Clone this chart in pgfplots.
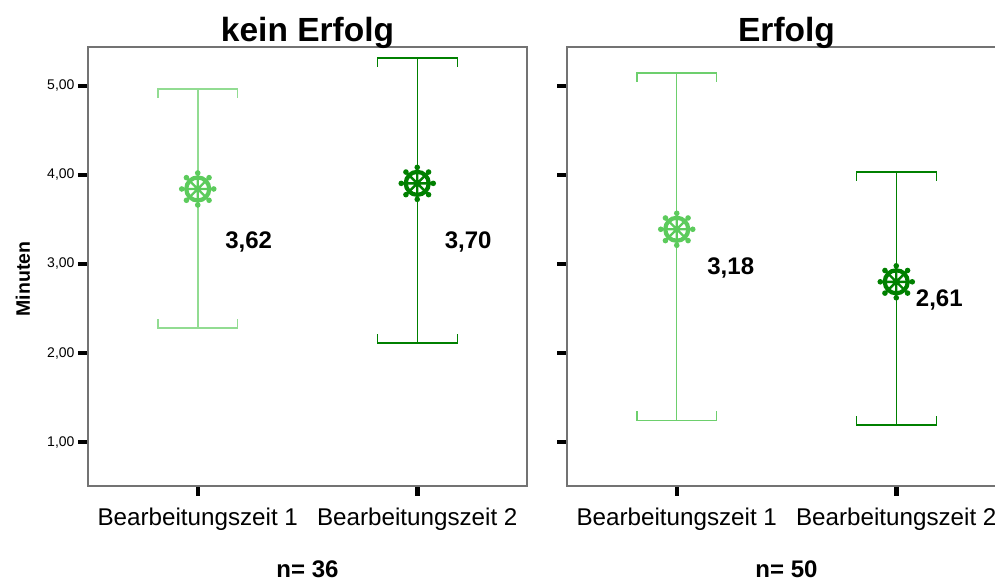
\documentclass[border=0pt]{standalone}
\usepackage{pgfplots}
\pgfplotsset{compat=1.18}
\usepackage{fontspec}
\setmainfont{Liberation Sans}

\definecolor{lgmark}{HTML}{5CCB5C}
\definecolor{lgbarA}{HTML}{92DC92}
\definecolor{lgbarB}{HTML}{6DCF6D}
\definecolor{dg}{HTML}{008000}

\pgfdeclareplotmark{wheel}{%
  \pgfsetlinewidth{4.2pt}%
  \pgfpathcircle{\pgfpointorigin}{11.5pt}%
  \pgfusepathqstroke
  \pgfsetlinewidth{2.4pt}%
  \pgfpathmoveto{\pgfpoint{-16pt}{0pt}}\pgfpathlineto{\pgfpoint{16pt}{0pt}}%
  \pgfpathmoveto{\pgfpoint{0pt}{-16pt}}\pgfpathlineto{\pgfpoint{0pt}{16pt}}%
  \pgfpathmoveto{\pgfpoint{-11.31pt}{-11.31pt}}\pgfpathlineto{\pgfpoint{11.31pt}{11.31pt}}%
  \pgfpathmoveto{\pgfpoint{-11.31pt}{11.31pt}}\pgfpathlineto{\pgfpoint{11.31pt}{-11.31pt}}%
  \pgfusepathqstroke
  \pgfpathcircle{\pgfpoint{16pt}{0pt}}{2.8pt}%
  \pgfpathcircle{\pgfpoint{-16pt}{0pt}}{2.8pt}%
  \pgfpathcircle{\pgfpoint{0pt}{16pt}}{2.8pt}%
  \pgfpathcircle{\pgfpoint{0pt}{-16pt}}{2.8pt}%
  \pgfpathcircle{\pgfpoint{11.31pt}{11.31pt}}{2.8pt}%
  \pgfpathcircle{\pgfpoint{-11.31pt}{11.31pt}}{2.8pt}%
  \pgfpathcircle{\pgfpoint{11.31pt}{-11.31pt}}{2.8pt}%
  \pgfpathcircle{\pgfpoint{-11.31pt}{-11.31pt}}{2.8pt}%
  \pgfusepathqfill
}

\pgfplotsset{
  panel/.style={
    width=439pt, height=439pt, scale only axis,
    xmin=-0.5, xmax=1.5, ymin=0.506, ymax=5.438,
    xtick={0,1}, xticklabels={Bearbeitungszeit 1,Bearbeitungszeit 2},
    ytick={1,2,3,4,5},
    tick align=outside, tick pos=left, major tick length=10pt,
    tick style={black, line width=4.5pt},
    axis line style={black!55, line width=1.5pt},
    xticklabel style={font=\fontsize{24.2}{29}\selectfont, yshift=-8pt},
    yticklabel style={font=\fontsize{14}{17}\selectfont},
    clip=false,
  },
  ebar/.style={line width=#1, line join=miter, mark=none},
}

\begin{document}
\begin{tikzpicture}
\useasboundingbox (0pt,0pt) rectangle (995pt,583pt);
\clip (0pt,0pt) rectangle (995pt,583pt);

% ---- left panel: kein Erfolg
\begin{axis}[panel, at={(88pt,97pt)}, anchor=south west,
  yticklabels={{1,00},{2,00},{3,00},{4,00},{5,00}}]
  % Bearbeitungszeit 1
  \addplot[ebar=1.5pt, lgbarA] coordinates {(0,2.281) (0,4.966)};
  \addplot[ebar=1.5pt, lgbarA] coordinates {(-0.182,4.865) (-0.182,4.966) (0.182,4.966) (0.182,4.865)};
  \addplot[ebar=1.5pt, lgbarA] coordinates {(-0.182,2.382) (-0.182,2.281) (0.182,2.281) (0.182,2.382)};
  \addplot[only marks, mark=wheel, color=lgmark] coordinates {(0,3.843)};
  % Bearbeitungszeit 2
  \addplot[ebar=1.2pt, dg] coordinates {(1,2.112) (1,5.315)};
  \addplot[ebar=1.2pt, dg] coordinates {(0.818,5.214) (0.818,5.315) (1.182,5.315) (1.182,5.214)};
  \addplot[ebar=1.2pt, dg] coordinates {(0.818,2.213) (0.818,2.112) (1.182,2.112) (1.182,2.213)};
  \addplot[only marks, mark=wheel, color=dg] coordinates {(1,3.906)};
  \node[font=\bfseries\fontsize{24}{28}\selectfont] at (axis cs:0.232,3.247) {3,62};
  \node[font=\bfseries\fontsize{24}{28}\selectfont] at (axis cs:1.232,3.247) {3,70};
  \node[font=\bfseries\fontsize{33.5}{40}\selectfont, anchor=base] at (rel axis cs:0.5,1) [yshift=5pt] {kein Erfolg};
\end{axis}

% ---- right panel: Erfolg
\begin{axis}[panel, at={(567pt,97pt)}, anchor=south west,
  yticklabels={,,,,}]
  \addplot[ebar=1.4pt, lgbarB] coordinates {(0,1.244) (0,5.146)};
  \addplot[ebar=1.4pt, lgbarB] coordinates {(-0.182,5.045) (-0.182,5.146) (0.182,5.146) (0.182,5.045)};
  \addplot[ebar=1.4pt, lgbarB] coordinates {(-0.182,1.345) (-0.182,1.244) (0.182,1.244) (0.182,1.345)};
  \addplot[only marks, mark=wheel, color=lgmark] coordinates {(0,3.39)};
  \addplot[ebar=1.2pt, dg] coordinates {(1,1.191) (1,4.034)};
  \addplot[ebar=1.2pt, dg] coordinates {(0.818,3.933) (0.818,4.034) (1.182,4.034) (1.182,3.933)};
  \addplot[ebar=1.2pt, dg] coordinates {(0.818,1.292) (0.818,1.191) (1.182,1.191) (1.182,1.292)};
  \addplot[only marks, mark=wheel, color=dg] coordinates {(1,2.80)};
  \node[font=\bfseries\fontsize{24}{28}\selectfont] at (axis cs:0.246,2.955) {3,18};
  \node[font=\bfseries\fontsize{24}{28}\selectfont] at (axis cs:1.196,2.596) {2,61};
  \node[font=\bfseries\fontsize{33.5}{40}\selectfont, anchor=base] at (rel axis cs:0.5,1) [yshift=5pt] {Erfolg};
\end{axis}

\node[rotate=90, font=\bfseries\fontsize{19.5}{23}\selectfont] at (23pt,304pt) {Minuten};
\node[font=\bfseries\fontsize{24}{28}\selectfont, anchor=base, inner sep=0pt] at (307.5pt,5pt) {n= 36};
\node[font=\bfseries\fontsize{24}{28}\selectfont, anchor=base, inner sep=0pt] at (786.5pt,5pt) {n= 50};
\end{tikzpicture}
\end{document}
